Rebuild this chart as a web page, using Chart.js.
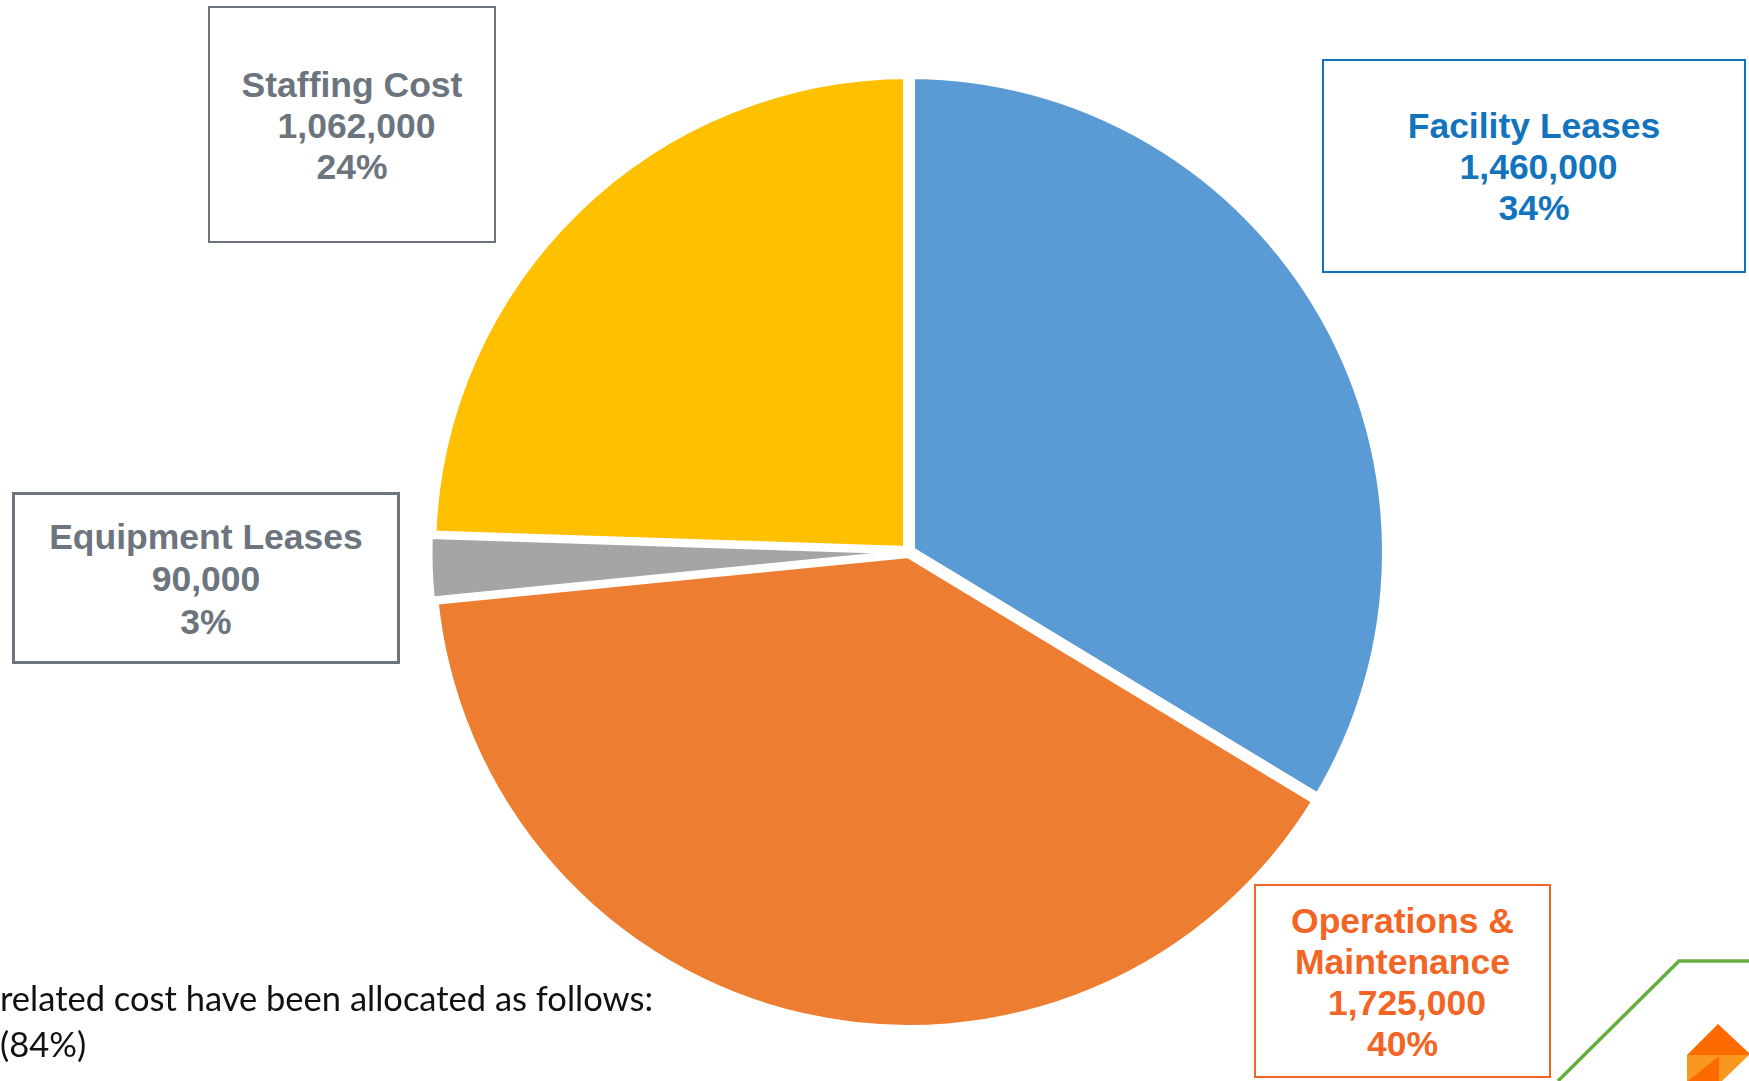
<!DOCTYPE html>
<html>
<head>
<meta charset="utf-8">
<title>Cost allocation</title>
<script src="https://cdn.jsdelivr.net/npm/chart.js@4"></script>
<style>
    html, body { margin: 0; padding: 0; background: #fff; overflow: hidden; }
    #page { position: relative; width: 1749px; height: 1081px; overflow: hidden; }
    #pie-wrap { position: absolute; left: 409px; top: 52px; width: 1000px; height: 1000px; }
    .callout {
        position: absolute;
        box-sizing: border-box;
        display: flex;
        flex-direction: column;
        justify-content: center;
        align-items: center;
        padding-top: 3px;
        background: #fff;
        border: 2px solid;
        font: bold 35.5px/41px "Liberation Sans", Arial, sans-serif;
        white-space: pre;
    }
    .callout .amount { padding-left: 9px; }
    #box-facility { left: 1322px; top: 59px; width: 424px; height: 214px; color: #1274BC; border-color: #1274BC; }
    #box-operations { left: 1254px; top: 884px; width: 297px; height: 194px; color: #F26524; border-color: #F26524; }
    #box-equipment { left: 12px; top: 492px; width: 388px; height: 172px; color: #6C757E; border-color: #6C757E; line-height: 42.5px; border-width: 3px; }
    #box-equipment .amount { padding-left: 0; }
    #box-staffing { left: 208px; top: 6px; width: 288px; height: 237px; color: #6C757E; border-color: #6C757E; }
    #note {
        position: absolute; left: 0; top: 975px;
        font: 34.5px/46px Lato, sans-serif;
        color: #111;
        white-space: pre;
    }
    #corner { position: absolute; left: 0; top: 0; }
</style>
</head>
<body>
<div id="page">
    <div id="pie-wrap"><canvas id="cost-chart" width="1000" height="1000"></canvas></div>
    <div id="callouts"></div>
    <div id="note">related cost have been allocated as follows:
(84%)</div>
    <svg id="corner" width="1749" height="1081">
        <polyline points="1558,1081 1679,961 1749,961" fill="none" stroke="#62AF3E" stroke-width="3.5"/>
        <polygon points="1718,1024 1749,1053 1749,1055 1687,1055" fill="#FF6A00"/>
        <polygon points="1687,1055 1749,1055 1722,1081 1687,1081" fill="#F9971E"/>
        <polygon points="1688,1081 1719,1056 1719,1081" fill="#FF6A00"/>
    </svg>
</div>

<script>
// Equipment Leases comes last so its thin slice paints over its neighbours' borders
const categories = ['Staffing Cost', 'Facility Leases', 'Operations & Maintenance', 'Equipment Leases'];
const costValues = [1062000, 1460000, 1725000, 90000];
const percentLabels = ['24%', '34%', '40%', '3%'];
const sliceColors = ['#FFC000', '#5B9BD5', '#ED7D31', '#A5A5A5'];
const sliceBorders = [12, 12, 12, 5];

// Callout ids and how each name wraps
const calloutIds = ['box-staffing', 'box-facility', 'box-operations', 'box-equipment'];
const nameLines = [['Staffing Cost'], ['Facility Leases'], ['Operations &', 'Maintenance'], ['Equipment Leases']];

/**
 * Build the boxed labels next to the pie
 */
function renderCallouts() {
    const container = document.getElementById('callouts');
    categories.forEach((name, i) => {
        const box = document.createElement('div');
        box.className = 'callout';
        box.id = calloutIds[i];
        box.setAttribute('aria-label', name);
        nameLines[i].forEach(line => {
            const row = document.createElement('div');
            row.textContent = line;
            box.appendChild(row);
        });
        const amount = document.createElement('div');
        amount.className = 'amount';
        amount.textContent = costValues[i].toLocaleString('en-US');
        box.appendChild(amount);
        const percent = document.createElement('div');
        percent.textContent = percentLabels[i];
        box.appendChild(percent);
        container.appendChild(box);
    });
}

renderCallouts();

// Start angle that puts the Staffing/Facility boundary at twelve o'clock
const total = costValues.reduce((sum, v) => sum + v, 0);
const startAngle = -360 * costValues[0] / total;

new Chart(document.getElementById('cost-chart').getContext('2d'), {
    type: 'pie',
    data: {
        labels: categories,
        datasets: [{
            data: costValues,
            backgroundColor: sliceColors,
            borderColor: '#ffffff',
            borderWidth: sliceBorders
        }]
    },
    options: {
        responsive: false,
        animation: false,
        radius: 479,
        rotation: startAngle,
        layout: { padding: 0 },
        plugins: {
            legend: { display: false },
            tooltip: { enabled: false }
        }
    }
});
</script>
</body>
</html>
